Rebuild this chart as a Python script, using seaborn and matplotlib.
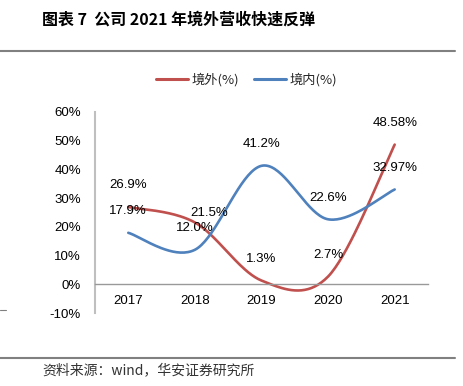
import numpy as np
import pandas as pd
import matplotlib
matplotlib.use("Agg")
import matplotlib.pyplot as plt
from matplotlib.lines import Line2D
import seaborn as sns

years = ["2017", "2018", "2019", "2020", "2021"]
overseas = [26.9, 21.5, 1.3, 2.7, 48.58]
domestic = [17.9, 12.0, 41.2, 22.6, 32.97]
overseas_labels = ["26.9%", "21.5%", "1.3%", "2.7%", "48.58%"]
domestic_labels = ["17.9%", "12.0%", "41.2%", "22.6%", "32.97%"]
series_names = ["境外(%)", "境内(%)"]
yticks = [-10, 0, 10, 20, 30, 40, 50, 60]

sns.set_style("white")
plt.rcParams["font.family"] = ["Liberation Sans", "Noto Sans CJK SC", "DejaVu Sans"]
CJK = ["Noto Sans CJK SC", "DejaVu Sans"]

RED = "#C0504D"
BLUE = "#4F81BD"
FS = 9.5


def smooth(vals, n=40):
    """Excel-style smoothed line (Catmull-Rom via cubic Bezier)."""
    v = np.asarray(vals, float)
    xs, ys = [], []
    m = len(v)
    for i in range(m - 1):
        p0 = v[i - 1] if i > 0 else v[i]
        p1, p2 = v[i], v[i + 1]
        p3 = v[i + 2] if i + 2 < m else v[i + 1]
        x0 = i - 1 if i > 0 else i
        x3 = i + 2 if i + 2 < m else i + 1
        c1y = p1 + (p2 - p0) / 6
        c2y = p2 - (p3 - p1) / 6
        c1x = i + (i + 1 - x0) / 6
        c2x = i + 1 - (x3 - i) / 6
        t = np.linspace(0, 1, n, endpoint=(i == m - 2))
        bx = (1 - t) ** 3 * i + 3 * (1 - t) ** 2 * t * c1x + 3 * (1 - t) * t ** 2 * c2x + t ** 3 * (i + 1)
        by = (1 - t) ** 3 * p1 + 3 * (1 - t) ** 2 * t * c1y + 3 * (1 - t) * t ** 2 * c2y + t ** 3 * p2
        xs.append(bx)
        ys.append(by)
    return np.concatenate(xs), np.concatenate(ys)


frames = []
for name, vals in zip(series_names, [overseas, domestic]):
    sx, sy = smooth(vals)
    frames.append(pd.DataFrame({"x": sx, "y": sy, "series": name}))
df = pd.concat(frames, ignore_index=True)

fig = plt.figure(figsize=(4.64, 3.86), dpi=100)
ax = fig.add_axes([0.2047, 0.189, 0.7177, 0.5215])

sns.lineplot(data=df, x="x", y="y", hue="series", palette=[RED, BLUE],
             sort=False, estimator=None, units="series", linewidth=1.9,
             legend=False, ax=ax)

for s in ["top", "right"]:
    ax.spines[s].set_visible(False)
ax.spines["bottom"].set_position(("data", 0))
ax.spines["left"].set_color("#BFBFBF")
ax.spines["left"].set_linewidth(1.5)
ax.spines["bottom"].set_color("#999999")
ax.spines["bottom"].set_linewidth(1.0)

ax.set_xlim(-0.5, len(years) - 0.5)
ax.set_ylim(-10, 60)
ax.set_yticks(yticks)
ax.set_yticklabels([f"{t}%" for t in yticks], fontsize=FS, color="#000000")
ax.set_xticks(range(len(years)))
ax.set_xticklabels(years, fontsize=FS, color="#000000")
ax.set_xlabel("")
ax.set_ylabel("")
ax.tick_params(axis="both", length=0)
ax.tick_params(axis="y", pad=10)
ax.tick_params(axis="x", pad=8)

for i, (v, lab) in enumerate(zip(overseas, overseas_labels)):
    off = (10, 6.5) if i == 1 else (0, 15.5)
    ax.annotate(lab, (i, v), xytext=off, textcoords="offset points",
                ha="center", va="center", fontsize=FS, color="#000000")
for i, (v, lab) in enumerate(zip(domestic, domestic_labels)):
    ax.annotate(lab, (i, v), xytext=(0, 15.5), textcoords="offset points",
                ha="center", va="center", fontsize=FS, color="#000000")

handles = [Line2D([], [], color=RED, lw=2.2), Line2D([], [], color=BLUE, lw=2.2)]
fig.legend(handles, series_names, loc="center", bbox_to_anchor=(0.531, 0.793),
           ncol=2, frameon=False, prop={"family": CJK, "size": FS},
           handlelength=2.42, handletextpad=0.25, columnspacing=1.15)

fig.text(42 / 464, 1 - 20 / 386, "图表 7  公司 2021 年境外营收快速反弹", family=CJK,
         fontsize=11.5, fontweight="bold", ha="left", va="center", color="#000000")
fig.add_artist(Line2D([0, 455 / 464], [1 - 51 / 386] * 2, color="#808080", lw=1.5))
fig.add_artist(Line2D([0, 455 / 464], [1 - 358 / 386] * 2, color="#808080", lw=1.5))
fig.add_artist(Line2D([0, 6 / 464], [1 - 310 / 386] * 2, color="#808080", lw=0.8))
fig.text(42 / 464, 1 - 370 / 386, "资料来源：wind，华安证券研究所", family=CJK,
         fontsize=10, ha="left", va="center", color="#333333")

fig.savefig("out.png", dpi=100, facecolor="white")
